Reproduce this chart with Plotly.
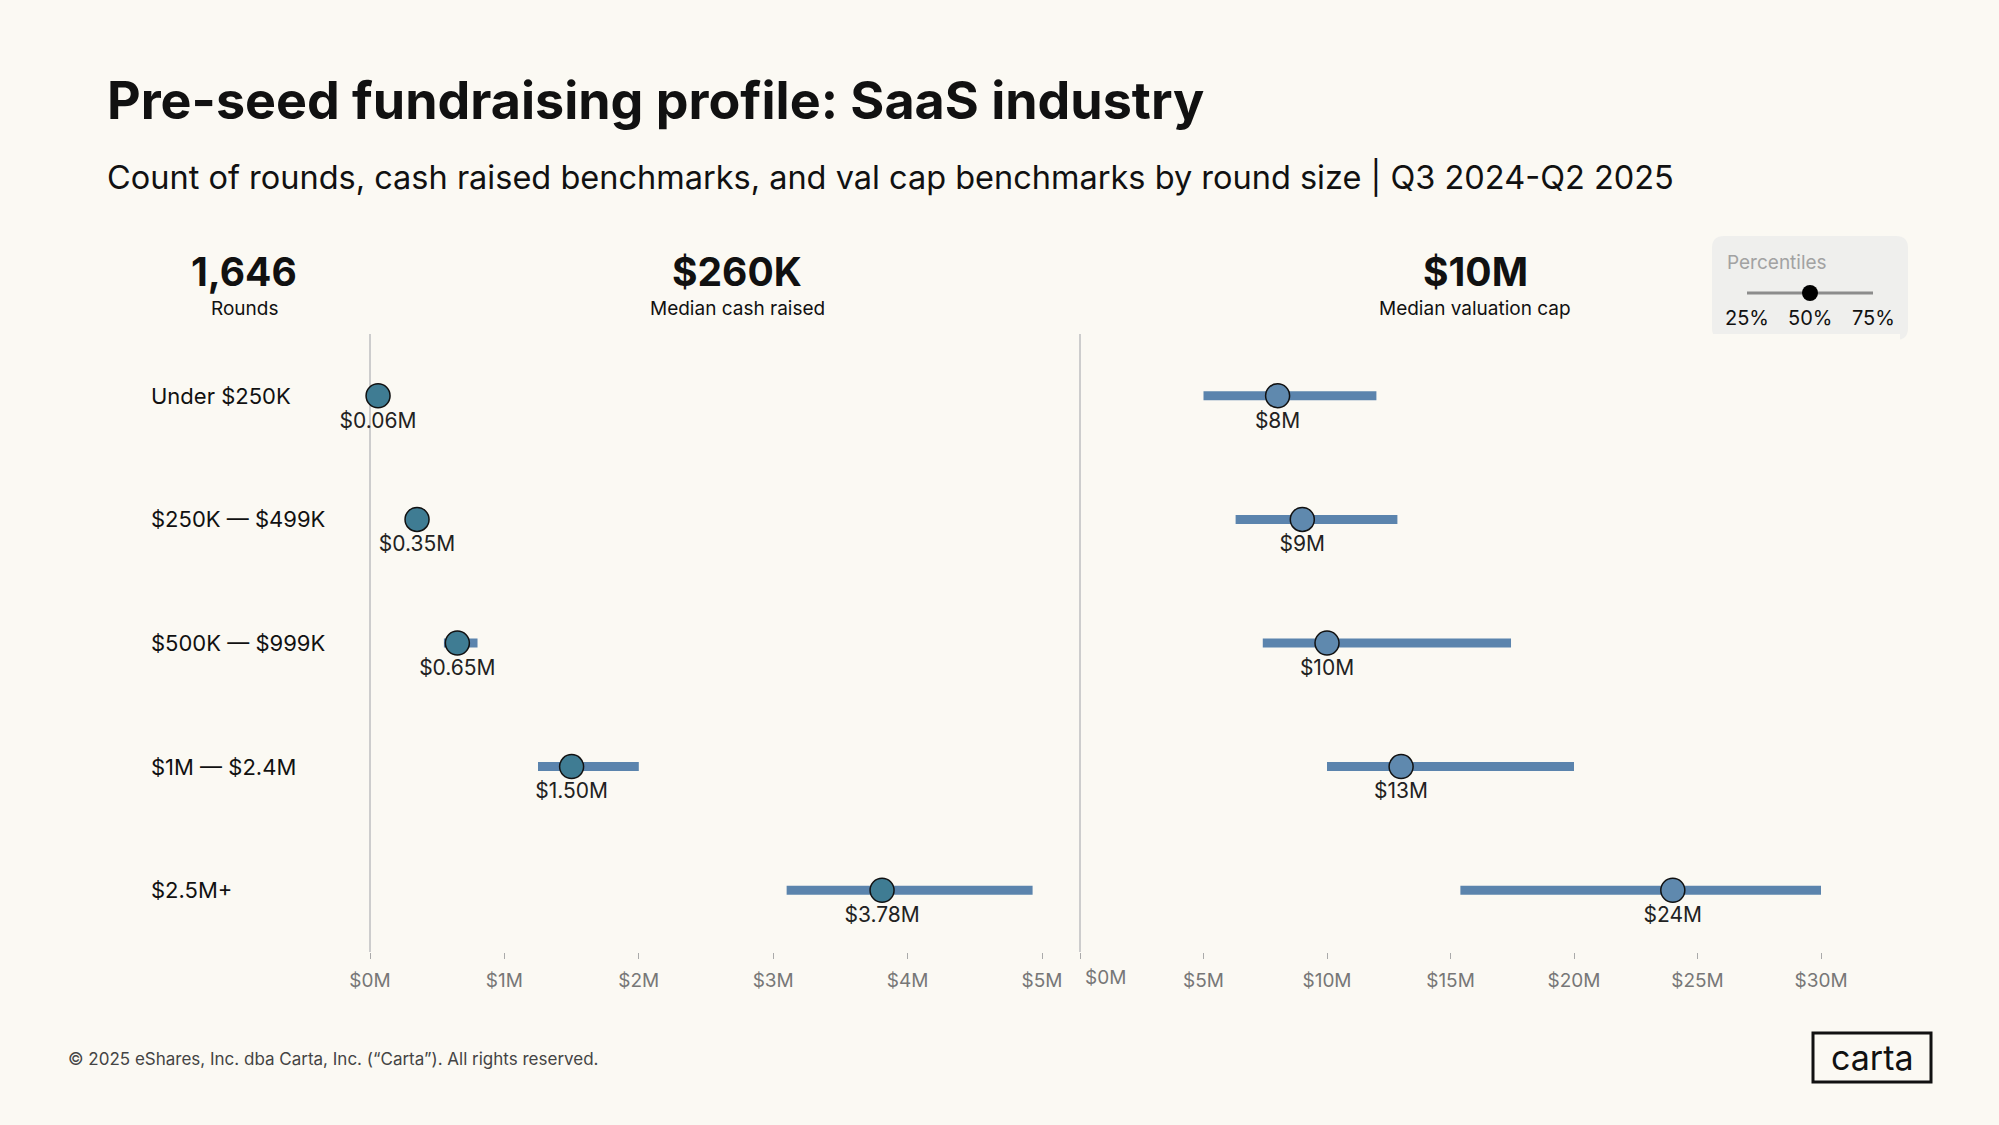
import plotly.graph_objects as go

# round size buckets, top to bottom
round_sizes = ['Under $250K', '$250K — $499K', '$500K — $999K', '$1M — $2.4M', '$2.5M+']

# cash raised ($M): 25th, 50th, 75th percentiles
cash_p25 = [0.03, 0.30, 0.55, 1.25, 3.10]
cash_p50 = [0.06, 0.35, 0.65, 1.50, 3.81]
cash_p75 = [0.09, 0.40, 0.80, 2.00, 4.93]
cash_labels = ['$0.06M', '$0.35M', '$0.65M', '$1.50M', '$3.78M']

# valuation cap ($M): 25th, 50th, 75th percentiles
cap_p25 = [5.0, 6.3, 7.4, 10.0, 15.4]
cap_p50 = [8.0, 9.0, 10.0, 13.0, 24.0]
cap_p75 = [12.0, 12.85, 17.45, 20.0, 30.0]
cap_labels = ['$8M', '$9M', '$10M', '$13M', '$24M']

cash_ticks = [0, 1, 2, 3, 4, 5]
cash_ticktext = ['$0M', '$1M', '$2M', '$3M', '$4M', '$5M']
cap_ticks = [0, 5, 10, 15, 20, 25, 30]
cap_ticktext = ['', '$5M', '$10M', '$15M', '$20M', '$25M', '$30M']

headline = [('1,646', 'Rounds'), ('$260K', 'Median cash raised'), ('$10M', 'Median valuation cap')]

W, H = 1999, 1125
BG = '#fbf9f3'
BAR = '#5b84ad'
FONT = 'Inter'


def px_x(p):
    return p / W


def px_y(p):
    return 1 - p / H


def seg(lo, hi, cats):
    xs, ys = [], []
    for a, b, c in zip(lo, hi, cats):
        xs += [a, b, None]
        ys += [c, c, None]
    return xs, ys


def round_rect(x0, y0, x1, y1, r):
    # rounded rectangle path in paper coords, built from pixel corners
    pts = [
        ('M', x0 + r, y0), ('L', x1 - r, y0), ('Q', x1, y0, x1, y0 + r),
        ('L', x1, y1 - r), ('Q', x1, y1, x1 - r, y1), ('L', x0 + r, y1),
        ('Q', x0, y1, x0, y1 - r), ('L', x0, y0 + r), ('Q', x0, y0, x0 + r, y0),
    ]
    out = ''
    for p in pts:
        cmd, vals = p[0], p[1:]
        coords = []
        for i in range(0, len(vals), 2):
            coords.append('%.5f,%.5f' % (px_x(vals[i]), px_y(vals[i + 1])))
        out += cmd + ' ' + ' '.join(coords) + ' '
    return out + 'Z'


fig = go.Figure()

x, y = seg(cash_p25, cash_p75, round_sizes)
fig.add_trace(go.Scatter(x=x, y=y, mode='lines', line=dict(color=BAR, width=9),
                         xaxis='x', yaxis='y', hoverinfo='skip'))
fig.add_trace(go.Scatter(x=cash_p50, y=round_sizes, mode='markers+text', text=cash_labels,
                         textposition='bottom center',
                         textfont=dict(family=FONT, size=21, color='#222'),
                         marker=dict(size=24, color='#3f7c93', line=dict(color='#111', width=1.5)),
                         xaxis='x', yaxis='y'))

x, y = seg(cap_p25, cap_p75, round_sizes)
fig.add_trace(go.Scatter(x=x, y=y, mode='lines', line=dict(color=BAR, width=9),
                         xaxis='x2', yaxis='y', hoverinfo='skip'))
fig.add_trace(go.Scatter(x=cap_p50, y=round_sizes, mode='markers+text', text=cap_labels,
                         textposition='bottom center',
                         textfont=dict(family=FONT, size=21, color='#222'),
                         marker=dict(size=24, color='#5f89ae', line=dict(color='#111', width=1.5)),
                         xaxis='x2', yaxis='y'))

# left panel: $0M at 370px, 134.4 px per $1M
l0, l1 = 300, 1075
lscale = 134.4
# right panel: $0M at 1080px, 24.7 px per $1M
r0, r1 = 1070, 1900
rscale = 24.7

axis_common = dict(showgrid=False, zeroline=True, zerolinecolor='#cdcdcd', zerolinewidth=1.5,
                   showline=False, ticks='outside', ticklen=6, tickcolor='#aaa', tickwidth=1,
                   tickfont=dict(family=FONT, size=19, color='#777'), anchor='y',
                   ticklabelstandoff=5, fixedrange=True)

fig.update_layout(
    width=W, height=H,
    paper_bgcolor=BG, plot_bgcolor=BG,
    margin=dict(l=0, r=0, t=0, b=0),
    showlegend=False,
    font=dict(family=FONT, color='#111'),
    xaxis=dict(domain=[px_x(l0), px_x(l1)],
               range=[(l0 - 370) / lscale, (l1 - 370) / lscale],
               tickvals=cash_ticks, ticktext=cash_ticktext, **axis_common),
    xaxis2=dict(domain=[px_x(r0), px_x(r1)],
                range=[(r0 - 1080) / rscale, (r1 - 1080) / rscale],
                tickvals=cap_ticks, ticktext=cap_ticktext, **axis_common),
    yaxis=dict(domain=[px_y(952), px_y(334)], range=[4.5, -0.5],
               categoryorder='array', categoryarray=round_sizes,
               showticklabels=False, showgrid=False, zeroline=False, showline=False,
               fixedrange=True),
)

ann = []
# title + subtitle
ann.append(dict(text='<b>Pre-seed fundraising profile: SaaS industry</b>', x=px_x(105), y=px_y(100),
                xanchor='left', yanchor='middle', font=dict(family=FONT, size=52, color='#111')))
ann.append(dict(text='Count of rounds, cash raised benchmarks, and val cap benchmarks by round size | Q3 2024-Q2 2025',
                x=px_x(105), y=px_y(177), xanchor='left', yanchor='middle',
                font=dict(family=FONT, size=32.5, color='#111')))

# headline numbers
for (big, small), cx in zip(headline, [244, 737, 1475]):
    ann.append(dict(text='<b>' + big + '</b>', x=px_x(cx), y=px_y(271), xanchor='center', yanchor='middle',
                    font=dict(family=FONT, size=39, color='#111')))
    ann.append(dict(text=small, x=px_x(cx), y=px_y(308), xanchor='center', yanchor='middle',
                    font=dict(family=FONT, size=19, color='#111')))

# row labels
for r in round_sizes:
    ann.append(dict(text=r, x=px_x(149), xref='paper', y=r, yref='y', xanchor='left', yanchor='middle',
                    font=dict(family=FONT, size=22, color='#111')))

# right axis $0M label sits just right of the divider
ann.append(dict(text='$0M', x=0, xref='x2', y=px_y(977), xanchor='left', yanchor='middle', xshift=3,
                font=dict(family=FONT, size=19, color='#777')))

# percentile key
ann.append(dict(text='Percentiles', x=px_x(1725), y=px_y(263), xanchor='left', yanchor='middle',
                font=dict(family=FONT, size=19, color='#a2a2a2')))
for lab, cx in zip(['25%', '50%', '75%'], [1747, 1810, 1873]):
    ann.append(dict(text=lab, x=px_x(cx), y=px_y(318), xanchor='center', yanchor='middle',
                    font=dict(family=FONT, size=20, color='#111')))

# footer + logo
ann.append(dict(text='© 2025 eShares, Inc. dba Carta, Inc. (“Carta”). All rights reserved.',
                x=px_x(66), y=px_y(1059), xanchor='left', yanchor='middle',
                font=dict(family=FONT, size=17, color='#444')))
ann.append(dict(text='carta', x=px_x(1872), y=px_y(1057), xanchor='center', yanchor='middle',
                font=dict(family=FONT, size=34, color='#111')))

for a in ann:
    a.setdefault('xref', 'paper')
    a.setdefault('yref', 'paper')
    a['showarrow'] = False
fig.update_layout(annotations=ann)

fig.update_layout(shapes=[
    dict(type='path', xref='paper', yref='paper', path=round_rect(1712, 236, 1908, 340, 12),
         fillcolor='#efefed', line=dict(width=0), layer='below'),
    dict(type='line', xref='paper', yref='paper', x0=px_x(1747), x1=px_x(1873), y0=px_y(293), y1=px_y(293),
         line=dict(color='#8c8c8c', width=3)),
    dict(type='circle', xref='paper', yref='paper', x0=px_x(1802), x1=px_x(1818), y0=px_y(301), y1=px_y(285),
         fillcolor='#000', line=dict(width=0)),
    dict(type='rect', xref='paper', yref='paper', x0=px_x(1813), x1=px_x(1931), y0=px_y(1082), y1=px_y(1033),
         line=dict(color='#111', width=3)),
])

fig.write_html('out.html', config={'displayModeBar': False},
               post_script="document.body.style.margin='0';document.body.style.background='%s';" % BG)
